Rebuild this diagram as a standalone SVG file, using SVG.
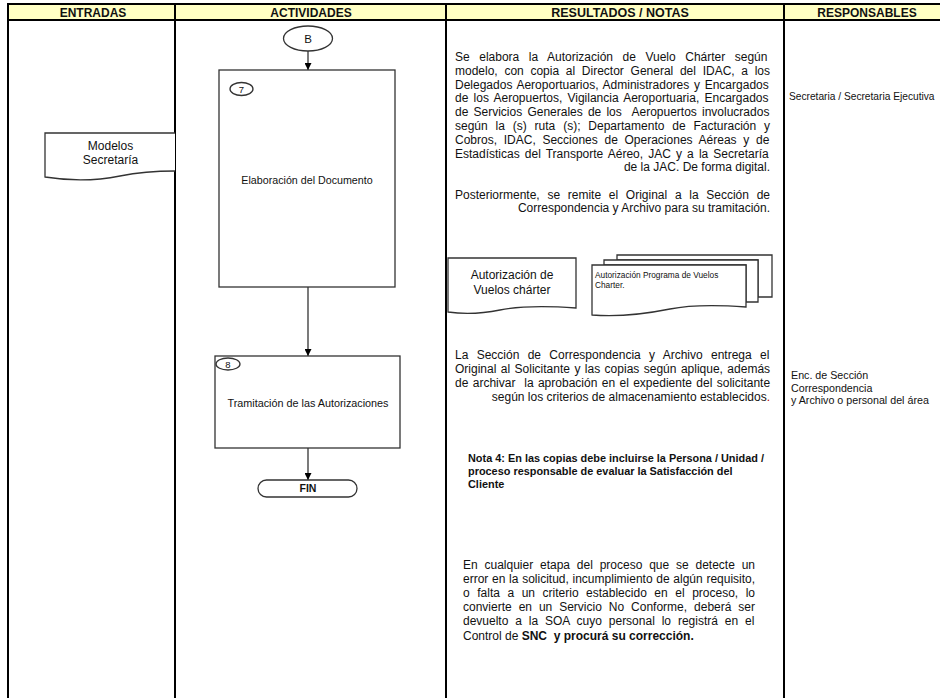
<svg xmlns="http://www.w3.org/2000/svg" width="940" height="698" viewBox="0 0 940 698">
<defs>
<marker id="arr" viewBox="0 0 10 10" refX="10" refY="5" markerWidth="7" markerHeight="7" markerUnits="userSpaceOnUse" orient="auto">
<path d="M0,0 L10,5 L0,10 z" fill="#000"/>
</marker>
<style>
text{font-family:"Liberation Sans",Arial,sans-serif;fill:#111;white-space:pre;}
.hdr{font-size:12px;font-weight:bold;text-anchor:middle;}
.body{font-size:12px;}
.end{text-anchor:end;}
.mid{text-anchor:middle;}
.shape{fill:#fff;stroke:#333;stroke-width:1.3;}
.col{stroke:#000;stroke-width:2;fill:none;}
.conn{stroke:#333;stroke-width:1.3;fill:none;}
.resp{font-size:10.7px;}
</style>
</defs>
<rect width="940" height="698" fill="#fff"/>
<g id="header">
<rect x="8" y="4" width="940" height="16" fill="#FFFFC4" stroke="#000" stroke-width="2"/>
<text class="hdr" x="93" y="16.5">ENTRADAS</text>
<text class="hdr" x="311" y="16.5">ACTIVIDADES</text>
<text class="hdr" x="620" y="16.5" style="font-size:12.5px">RESULTADOS / NOTAS</text>
<text class="hdr" x="867" y="16.5">RESPONSABLES</text>
</g>
<g id="columns">
<line class="col" x1="8" y1="4" x2="8" y2="700"/>
<line class="col" x1="175" y1="4" x2="175" y2="700"/>
<line class="col" x1="446" y1="4" x2="446" y2="700"/>
<line class="col" x1="784" y1="4" x2="784" y2="700"/>
</g>
<g id="connectors">
<line class="conn" x1="308" y1="51" x2="308" y2="70" marker-end="url(#arr)"/>
<line class="conn" x1="308" y1="287" x2="308" y2="356" marker-end="url(#arr)"/>
<line class="conn" x1="308" y1="448" x2="308" y2="480" marker-end="url(#arr)"/>
</g>
<g id="node-B">
<ellipse class="shape" cx="308" cy="38.5" rx="24.5" ry="12.5"/>
<text class="mid" x="308" y="42.5" font-size="11.5">B</text>
</g>
<g id="node-7">
<rect class="shape" x="219" y="70" width="176" height="217"/>
<ellipse class="shape" cx="241.5" cy="89" rx="11.5" ry="6.5"/>
<text class="mid" x="241.5" y="92.5" font-size="9.5">7</text>
<text class="mid" x="307" y="184" font-size="10.7">Elaboración del Documento</text>
</g>
<g id="node-8">
<rect class="shape" x="215" y="356" width="185" height="92"/>
<ellipse class="shape" cx="228" cy="364" rx="12" ry="6"/>
<text class="mid" x="228" y="367.5" font-size="9.5">8</text>
<text class="mid" x="308" y="407" font-size="10.8">Tramitación de las Autorizaciones</text>
</g>
<g id="node-fin">
<rect class="shape" x="258" y="480" width="99" height="17" rx="8.5" ry="8.5"/>
<text class="mid" x="308" y="492" font-size="10.5" font-weight="bold">FIN</text>
</g>
<g id="doc-modelos">
<path class="shape" d="M175,133 L45,133 L45,177 C70,181 95,181 120,176 C140,172 158,171 175,171"/>
<text class="mid" x="110.5" y="150" font-size="12">Modelos</text>
<text class="mid" x="110.5" y="164" font-size="12">Secretaría</text>
</g>
<g id="doc-autorizacion">
<path class="shape" d="M448,258 L576,258 L576,308 C548,306 520,306 500,310 C480,314 462,314 448,312 Z"/>
<text class="mid" x="512" y="279" font-size="12">Autorización de</text>
<text class="mid" x="512" y="294" font-size="12">Vuelos chárter</text>
</g>
<g id="doc-multi">
<path class="shape" d="M617,255 L772,255 L772,297 C765,297 762,297 758,297 L758,260 L617,260 Z"/>
<path class="shape" d="M604,260 L758,260 L758,302 C753,302 750,302 746,302 L746,265 L604,265 Z"/>
<path class="shape" d="M592,265 L746,265 L746,307 C718,305 690,305 670,309 C645,314 615,317 592,315 Z"/>
<text x="595" y="278" font-size="8.3">Autorización Programa de Vuelos</text>
<text x="595" y="288" font-size="8.3">Charter.</text>
</g>
<g id="resultados">
<g class="body">
<text x="455" y="61" word-spacing="6.2">Se elabora la Autorización de Vuelo Chárter según</text>
<text x="455" y="74.8" word-spacing="3.36">modelo, con copia al Director General del IDAC, a los</text>
<text x="455" y="88.6" word-spacing="1.39">Delegados Aeroportuarios, Administradores y Encargados</text>
<text x="455" y="102.4" word-spacing="1.91">de los Aeropuertos, Vigilancia Aeroportuaria, Encargados</text>
<text x="455" y="116.2" word-spacing="1.84">de Servicios Generales de los  Aeropuertos involucrados</text>
<text x="455" y="130" word-spacing="4.53">según la (s) ruta (s); Departamento de Facturación y</text>
<text x="455" y="143.8" word-spacing="3.36">Cobros, IDAC, Secciones de Operaciones Aéreas y de</text>
<text x="455" y="157.6" word-spacing="1.78">Estadísticas del Transporte Aéreo, JAC y a la Secretaría</text>
<text class="end" x="770" y="171.4">de la JAC. De forma digital.</text>
<text x="455" y="198.5" word-spacing="4.36">Posteriormente, se remite el Original a la Sección de</text>
<text class="end" x="770" y="212.3">Correspondencia y Archivo para su tramitación.</text>
<text x="455" y="359" word-spacing="4.98">La Sección de Correspondencia y Archivo entrega el</text>
<text x="455" y="373" word-spacing="1.11">Original al Solicitante y las copias según aplique, además</text>
<text x="455" y="387" word-spacing="1.06">de archivar  la aprobación en el expediente del solicitante</text>
<text class="end" x="770" y="401">según los criterios de almacenamiento establecidos<tspan fill="#c00000">.</tspan></text>
</g>
<g font-size="10.9" font-weight="bold">
<text x="468" y="462">Nota 4: En las copias debe incluirse la Persona / Unidad /</text>
<text x="468" y="475">proceso responsable de evaluar la Satisfacción del</text>
<text x="468" y="488">Cliente</text>
</g>
<g class="body">
<text x="463" y="569" word-spacing="3.48">En cualquier etapa del proceso que se detecte un</text>
<text x="463" y="583" word-spacing="0.37">error en la solicitud, incumplimiento de algún requisito,</text>
<text x="463" y="597" word-spacing="4.21">o falta a un criterio establecido en el proceso, lo</text>
<text x="463" y="611" word-spacing="3.6">convierte en un Servicio No Conforme, deberá ser</text>
<text x="463" y="625" word-spacing="3.54">devuelto a la SOA cuyo personal lo registrá en el</text>
<text x="463" y="639.5">Control de <tspan font-weight="bold">SNC  y procurá su corrección.</tspan></text>
</g>
</g>
<g id="responsables">
<text x="789" y="99.5" style="font-size:10.2px">Secretaria / Secretaria Ejecutiva</text>
<text class="resp" x="791" y="379">Enc. de Sección</text>
<text class="resp" x="791" y="391.5">Correspondencia</text>
<text class="resp" x="791" y="404">y Archivo o personal del área</text>
</g>
</svg>
